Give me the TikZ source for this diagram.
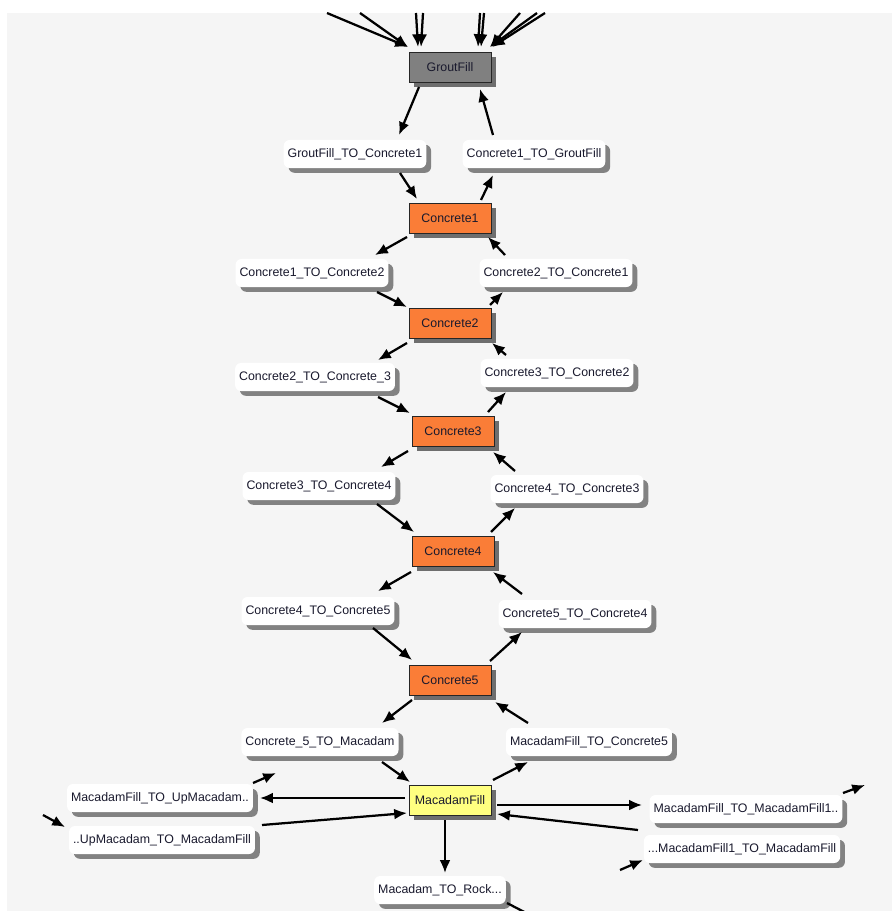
\documentclass[tikz,border=0pt]{standalone}
\usepackage{fontspec}
\setmainfont{Liberation Sans}
\usetikzlibrary{shadows}
\usetikzlibrary{calc}
\usetikzlibrary{arrows.meta}

\definecolor{bggray}{RGB}{245,245,245}
\definecolor{concrete}{RGB}{250,125,55}
\definecolor{groutgray}{RGB}{128,128,128}
\definecolor{macadam}{RGB}{255,255,128}
\definecolor{shade}{RGB}{130,130,130}
\definecolor{ink}{RGB}{25,25,45}

\tikzset{
	proc/.style={draw=black!85, line width=0.6pt, minimum width=2.05cm, minimum height=0.75cm,
		inner sep=0pt, text=ink, font=\fontsize{8.8}{10}\selectfont,
		drop shadow={shadow xshift=0.13cm, shadow yshift=-0.13cm, fill=shade!85!black, opacity=1}},
	lbl/.style={fill=white, rounded corners=0.15cm, inner xsep=0.1cm, inner ysep=0pt,
		minimum height=0.7cm, text=ink, font=\fontsize{8.8}{10}\selectfont,
		drop shadow={shadow xshift=0.12cm, shadow yshift=-0.12cm, fill=shade, opacity=1}},
	link/.style={line width=1.6pt, -{Latex[length=3.2mm,width=2.7mm]}},
}

\begin{document}
\begin{tikzpicture}[x=0.025cm, y=-0.025cm]
		% Canvas
		\useasboundingbox (0,0) rectangle (892,911);
		\fill[white] (0,0) rectangle (892,911);
		\fill[bggray] (7,13) rectangle (892,911);
		\clip (7,13) rectangle (892,911);
		
		% Process boxes
		\node[proc, fill=groutgray] (grout) at (450,67) {GroutFill};
		\node[proc, fill=concrete] (c1) at (450,218) {Concrete1};
		\node[proc, fill=concrete] (c2) at (450,323) {Concrete2};
		\node[proc, fill=concrete] (c3) at (453,431) {Concrete3};
		\node[proc, fill=concrete] (c4) at (453,551) {Concrete4};
		\node[proc, fill=concrete] (c5) at (450,680) {Concrete5};
		\node[proc, fill=macadam] (mac) at (450,800) {MacadamFill};
		
		% Transition labels
		\node[lbl] (gc1) at (355,154) {GroutFill\_TO\_Concrete1};
		\node[lbl] (c1g) at (534,154) {Concrete1\_TO\_GroutFill};
		\node[lbl] (c1c2) at (312,273) {Concrete1\_TO\_Concrete2};
		\node[lbl] (c2c1) at (556,273) {Concrete2\_TO\_Concrete1};
		\node[lbl] (c2c3) at (315,377) {Concrete2\_TO\_Concrete\_3};
		\node[lbl] (c3c2) at (557,373) {Concrete3\_TO\_Concrete2};
		\node[lbl] (c3c4) at (319,486) {Concrete3\_TO\_Concrete4};
		\node[lbl] (c4c3) at (567,489) {Concrete4\_TO\_Concrete3};
		\node[lbl] (c4c5) at (318,611) {Concrete4\_TO\_Concrete5};
		\node[lbl] (c5c4) at (575,614) {Concrete5\_TO\_Concrete4};
		\node[lbl] (c5mac) at (320,742) {Concrete\_5\_TO\_Macadam};
		\node[lbl] (macc5) at (589,742) {MacadamFill\_TO\_Concrete5};
		\node[lbl] (macup) at (160,798) {MacadamFill\_TO\_UpMacadam..};
		\node[lbl] (upmac) at (162,840) {..UpMacadam\_TO\_MacadamFill};
		\node[lbl] (mac1) at (746,809) {MacadamFill\_TO\_MacadamFill1..};
		\node[lbl] (mac1b) at (742,849) {...MacadamFill1\_TO\_MacadamFill};
		\node[lbl] (macrock) at (440,890) {Macadam\_TO\_Rock...};
		
		% Incoming arrows from above
		\foreach \sx/\ex in {327/-42, 360/-42, 416/-32, 423/-29, 480/28, 484/31, 520/40, 537/40, 545/42} {
			\coordinate (src\sx) at (\sx,13);
			\draw[link] (src\sx) -- ($(grout)+(\ex,-20)$);
		}
		
		% Connect the chain
		\draw[link] ($(grout)+(-31,20)$) -- ($(gc1)+(44,-19)$);
		\draw[link] ($(c1g)+(-41,-19)$) -- ($(grout)+(30,22)$);
		\draw[link] ($(gc1)+(45,19)$) -- ($(c1)+(-33,-19)$);
		\draw[link] ($(c1)+(31,-18)$) -- ($(c1g)+(-41,21)$);
		
		\draw[link] ($(c1)+(-43,19)$) -- ($(c1c2)+(63,-18)$);
		\draw[link] ($(c2c1)+(-51,-18)$) -- ($(c1)+(38,19)$);
		\draw[link] ($(c1c2)+(65,19)$) -- ($(c2)+(-43,-16)$);
		\draw[link] ($(c2)+(40,-18)$) -- ($(c2c1)+(-53,19)$);
		
		\draw[link] ($(c2)+(-43,20)$) -- ($(c2c3)+(63,-17)$);
		\draw[link] ($(c3c2)+(-51,-18)$) -- ($(c2)+(42,20)$);
		\draw[link] ($(c2c3)+(63,20)$) -- ($(c3)+(-43,-18)$);
		\draw[link] ($(c3)+(35,-19)$) -- ($(c3c2)+(-51,19)$);
		
		\draw[link] ($(c3)+(-45,20)$) -- ($(c3c4)+(62,-19)$);
		\draw[link] ($(c4c3)+(-52,-18)$) -- ($(c3)+(40,21)$);
		\draw[link] ($(c3c4)+(58,18)$) -- ($(c4)+(-39,-19)$);
		\draw[link] ($(c4)+(38,-19)$) -- ($(c4c3)+(-52,19)$);
		
		\draw[link] ($(c4)+(-42,21)$) -- ($(c4c5)+(60,-20)$);
		\draw[link] ($(c5c4)+(-53,-20)$) -- ($(c4)+(40,21)$);
		\draw[link] ($(c4c5)+(55,17)$) -- ($(c5)+(-38,-20)$);
		\draw[link] ($(c5)+(40,-19)$) -- ($(c5c4)+(-53,18)$);
		
		\draw[link] ($(c5)+(-38,20)$) -- ($(c5mac)+(62,-19)$);
		\draw[link] ($(macc5)+(-61,-19)$) -- ($(c5)+(45,22)$);
		\draw[link] ($(c5mac)+(62,20)$) -- ($(mac)+(-40,-18)$);
		\draw[link] ($(mac)+(43,-20)$) -- ($(macc5)+(-61,20)$);
		
		% Around MacadamFill
		\draw[link] ($(mac)+(-45,-2)$) -- ($(macup)+(100,0)$);
		\draw[link] ($(upmac)+(100,-15)$) -- ($(mac)+(-43,13)$);
		\draw[link] ($(mac)+(47,5)$) -- ($(mac1)+(-104,-4)$);
		\draw[link] ($(mac1b)+(-104,-19)$) -- ($(mac)+(47,14)$);
		\draw[link] ($(mac)+(-5,20)$) -- ($(macrock)+(5,-17)$);
		
		% Loose ends
		\coordinate (out1) at (276,773);
		\coordinate (in1) at (43,815);
		\coordinate (out2) at (865,785);
		\coordinate (in2) at (620,870);
		\coordinate (out3) at (532,916);
		\draw[link] ($(macup)+(93,-15)$) -- (out1);
		\draw[link] (in1) -- ($(upmac)+(-97,-13)$);
		\draw[link] ($(mac1)+(97,-16)$) -- (out2);
		\draw[link] (in2) -- ($(mac1b)+(-99,11)$);
		\draw[line width=1.6pt] ($(macrock)+(67,13)$) -- (out3);
	\end{tikzpicture}
\end{document}
